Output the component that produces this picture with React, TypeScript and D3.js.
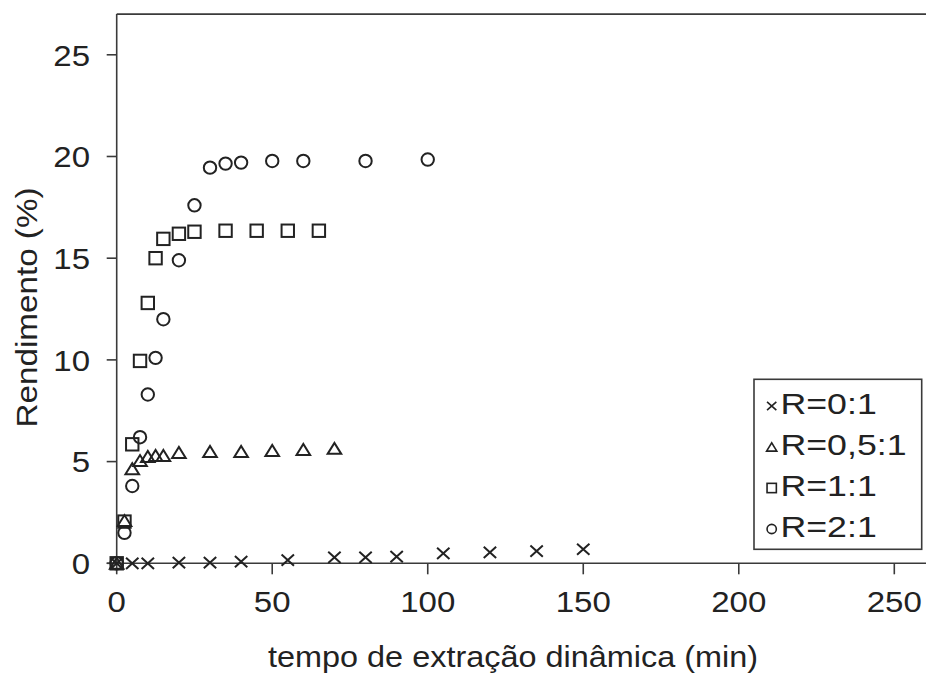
import React from "react";
import * as d3 from "d3";

const xTicks = [0, 50, 100, 150, 200, 250];
const yTicks = [0, 5, 10, 15, 20, 25];

const crossT = [0, 5, 10, 20, 30, 40, 55, 70, 80, 90, 105, 120, 135, 150];
const crossV = [0, 0, 0, 0.03, 0.03, 0.08, 0.16, 0.29, 0.29, 0.33, 0.49, 0.54, 0.6, 0.69];

const triT = [0, 2.5, 5, 7.5, 10, 12.5, 15, 20, 30, 40, 50, 60, 70];
const triV = [0, 2.1, 4.65, 5.05, 5.25, 5.3, 5.3, 5.45, 5.5, 5.5, 5.55, 5.6, 5.65];

const sqT = [0, 2.5, 5, 7.5, 10, 12.5, 15, 20, 25, 35, 45, 55, 65];
const sqV = [0, 2.05, 5.85, 9.95, 12.8, 15.0, 15.95, 16.2, 16.3, 16.35, 16.35, 16.35, 16.35];

const circT = [0, 2.5, 5, 7.5, 10, 12.5, 15, 20, 25, 30, 35, 40, 50, 60, 80, 100];
const circV = [0, 1.5, 3.8, 6.2, 8.3, 10.1, 12.0, 14.9, 17.6, 19.45, 19.65, 19.7, 19.78, 19.78, 19.78, 19.85];

const legendLabels = ["R=0:1", "R=0,5:1", "R=1:1", "R=2:1"];
const xTitle = "tempo de extração dinâmica (min)";
const yTitle = "Rendimento (%)";

const W = 926;
const H = 675;
const INK = "#222";
const AX = "#3a3a3a";
const FONT = "'Liberation Sans', Arial, sans-serif";

type Kind = "cross" | "tri" | "sq" | "circ";

function Marker({ kind, x, y, s }: { kind: Kind; x: number; y: number; s: number }) {
  const sw = s > 0.9 ? 2 : 1.6;
  if (kind === "circ") {
    return <circle cx={x} cy={y} r={6.2 * s} fill="none" stroke={INK} strokeWidth={sw} />;
  }
  if (kind === "sq") {
    const h = 6.2 * s;
    return <rect x={x - h} y={y - h} width={2 * h} height={2 * h} fill="none" stroke={INK} strokeWidth={sw} />;
  }
  if (kind === "tri") {
    const w = 6.8 * s;
    const hh = 5.5 * s;
    return (
      <path
        d={`M${x - w},${y + hh}L${x + w},${y + hh}L${x},${y - hh}Z`}
        fill="none"
        stroke={INK}
        strokeWidth={sw}
        strokeLinejoin="miter"
      />
    );
  }
  const a = 6.2 * s;
  const b = 5.6 * s;
  return (
    <path d={`M${x - a},${y - b}L${x + a},${y + b}M${x - a},${y + b}L${x + a},${y - b}`} stroke={INK} strokeWidth={sw} fill="none" />
  );
}

export default function App() {
  const x = d3.scaleLinear().domain([0, 260]).range([116.7, 925.4]);
  const y = d3.scaleLinear().domain([0, 27]).range([563.3, 14.1]);

  const series: { kind: Kind; t: number[]; v: number[] }[] = [
    { kind: "cross", t: crossT, v: crossV },
    { kind: "tri", t: triT, v: triV },
    { kind: "sq", t: sqT, v: sqV },
    { kind: "circ", t: circT, v: circV },
  ];

  const legendKinds: Kind[] = ["cross", "tri", "sq", "circ"];
  const legendY = d3.scaleLinear().domain([0, 3]).range([413.5, 536.5]);

  const x0 = x(0);
  const y0 = y(0);
  const yTop = y(27);

  return (
    <svg width={W} height={H} style={{ position: "absolute", left: 0, top: 0, background: "#fff" }}>
      <rect x={0} y={0} width={W} height={H} fill="#fff" />
      <line x1={x0} y1={yTop} x2={x0} y2={y0} stroke={AX} strokeWidth={1.6} />
      <line x1={x0} y1={yTop} x2={W} y2={yTop} stroke={AX} strokeWidth={1.6} />
      <line x1={x0 - 10} y1={y0} x2={W} y2={y0} stroke={AX} strokeWidth={1.6} />

      {yTicks.map((t) => (
        <g key={"yt" + t}>
          <line x1={x0 - 10} x2={x0} y1={y(t)} y2={y(t)} stroke={AX} strokeWidth={1.6} />
          <g transform={`translate(90,${y(t) + 10.8}) scale(1.1,1)`}>
            <text textAnchor="end" fontFamily={FONT} fontSize={30} fill={INK}>
              {t}
            </text>
          </g>
        </g>
      ))}

      {xTicks.map((t) => (
        <g key={"xt" + t}>
          <line x1={x(t)} x2={x(t)} y1={y0} y2={y0 + 11} stroke={AX} strokeWidth={1.6} />
          <g transform={`translate(${x(t)},611.7) scale(1.1,1)`}>
            <text textAnchor="middle" fontFamily={FONT} fontSize={30} fill={INK}>
              {t}
            </text>
          </g>
        </g>
      ))}

      <text
        x={513}
        y={666.7}
        textAnchor="middle"
        fontFamily={FONT}
        fontSize={29}
        fill={INK}
        textLength={490}
        lengthAdjust="spacingAndGlyphs"
      >
        {xTitle}
      </text>

      <text
        transform={`translate(37,307.5) rotate(-90)`}
        textAnchor="middle"
        fontFamily={FONT}
        fontSize={30}
        fill={INK}
        textLength={240}
        lengthAdjust="spacingAndGlyphs"
      >
        {yTitle}
      </text>

      {series.map((s) =>
        s.t.map((t, i) => <Marker key={s.kind + i} kind={s.kind} x={x(t)} y={y(s.v[i])} s={1} />)
      )}

      <rect x={754} y={379.3} width={167.7} height={170} fill="#fff" stroke={AX} strokeWidth={1.6} />
      {legendLabels.map((lab, i) => (
        <g key={lab}>
          <Marker kind={legendKinds[i]} x={771.7} y={legendY(i) - 7.5} s={0.75} />
          <g transform={`translate(780.5,${legendY(i)}) scale(1.19,1)`}>
            <text fontFamily={FONT} fontSize={30} fill={INK}>
              {lab}
            </text>
          </g>
        </g>
      ))}
    </svg>
  );
}
